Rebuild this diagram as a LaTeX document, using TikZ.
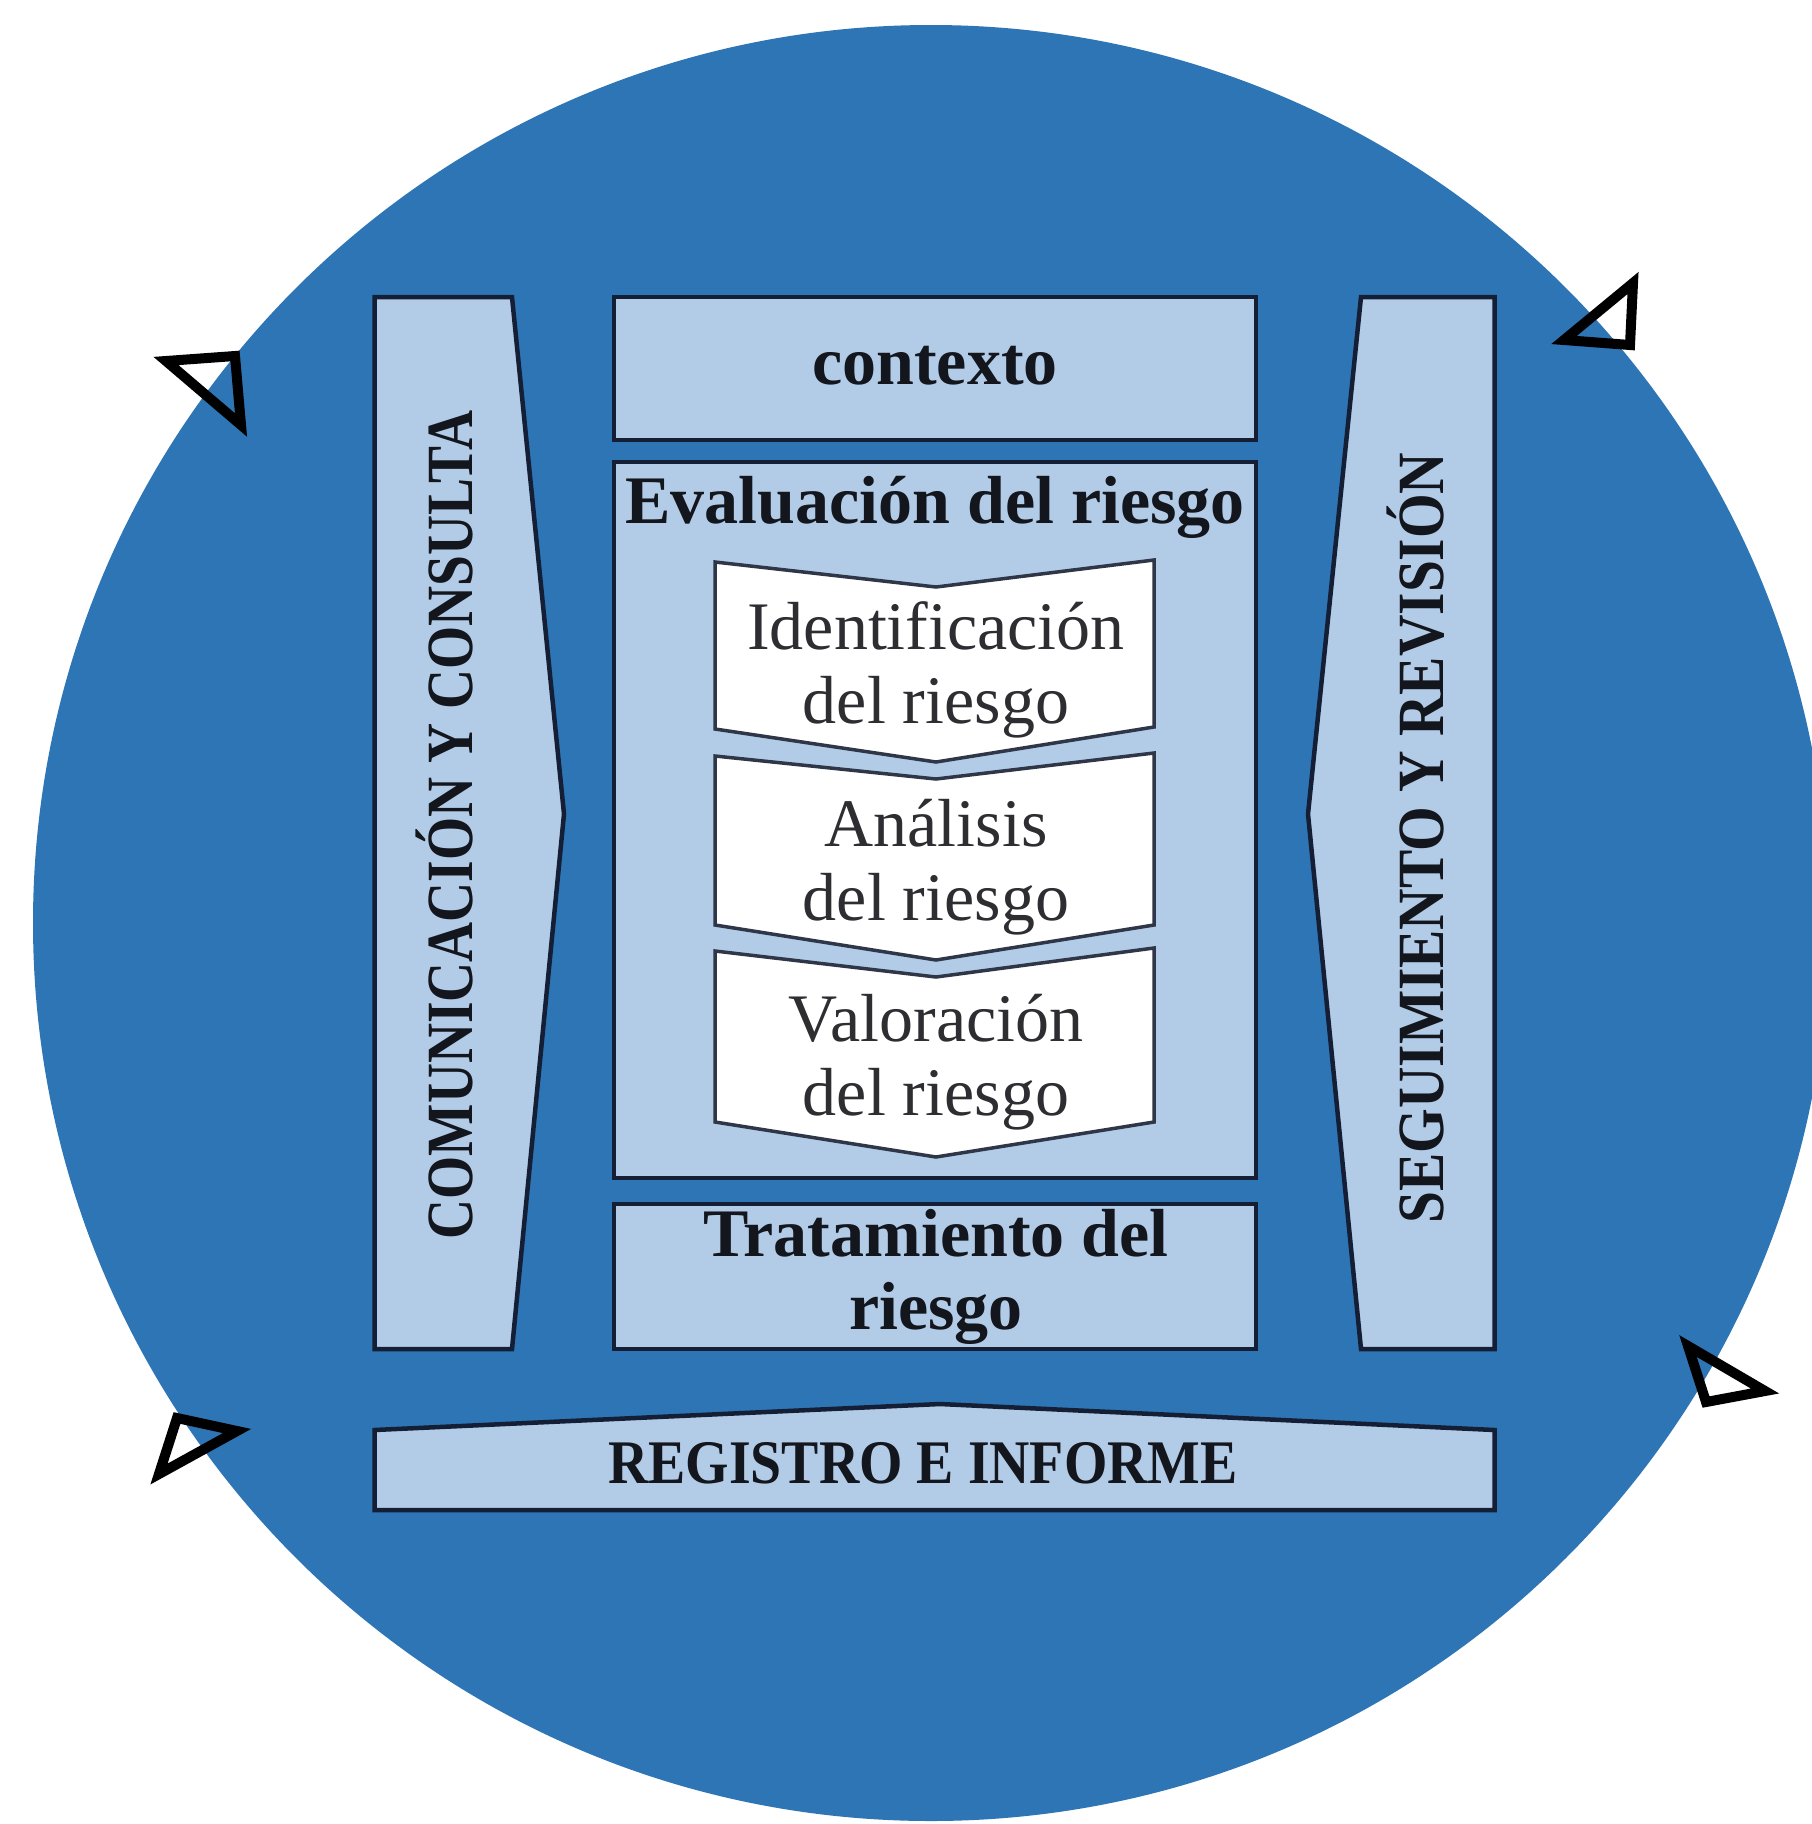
\documentclass[tikz,border=0pt]{standalone}
\usepackage{fontspec}
\setmainfont{Liberation Serif}
\usepackage{graphicx}
\definecolor{circ}{RGB}{46,117,182}
\definecolor{lite}{RGB}{178,204,232}
\definecolor{edge}{RGB}{20,30,52}
\definecolor{ink}{RGB}{20,22,30}
\definecolor{ink2}{RGB}{45,45,50}
\begin{document}
\begin{tikzpicture}[x=1pt,y=-1pt,
  panel/.style={fill=lite,draw=edge,line width=4.5pt,line join=miter},
  chevbox/.style={fill=white,draw=edge!75!gray,line width=3.5pt,line join=miter},
  tri/.style={draw=black,line width=10pt,line join=miter},
  boldtxt/.style={font=\fontsize{68}{73}\selectfont\bfseries,text=ink,inner sep=0pt,align=center},
  regtxt/.style={font=\fontsize{68}{74}\selectfont,text=ink2,inner sep=0pt,align=center},
  captxt/.style={font=\fontsize{66}{70}\selectfont\bfseries,text=ink,inner sep=0pt}]
\useasboundingbox (0,0) rectangle (1812,1824);
\fill[white] (0,0) rectangle (1812,1824);
\begin{scope}
\clip (0,0) rectangle (1812,1824);
\fill[circ] (931,923) circle (898);
\end{scope}

% left column
\draw[panel] (374.5,297) -- (512,297) -- (564,814) -- (512,1349) -- (374.5,1349) -- cycle;
% right column
\draw[panel] (1361,297) -- (1494.5,297) -- (1494.5,1349) -- (1361,1349) -- (1308,814) -- cycle;
% central boxes
\draw[panel] (614,297) rectangle (1256,440);
\draw[panel] (614,462) rectangle (1256,1178);
\draw[panel] (614,1204) rectangle (1256,1349);
% bottom bar
\draw[panel] (374.5,1430) -- (940,1404) -- (1494.5,1430) -- (1494.5,1510) -- (374.5,1510) -- cycle;

% chevrons
\draw[chevbox] (715,562) -- (936,587) -- (1154,560) -- (1154,727) -- (936,762) -- (715,729) -- cycle;
\draw[chevbox] (715,756) -- (936,779) -- (1154,753) -- (1154,925) -- (936,960) -- (715,925) -- cycle;
\draw[chevbox] (715,951) -- (936,977) -- (1154,948) -- (1154,1122) -- (936,1157) -- (715,1122) -- cycle;

% texts
\node[boldtxt,anchor=base] (ctx) at (935,384) {contexto};
\node[boldtxt,anchor=base] (eva) at (935,523) {Evaluación del riesgo};
\node[regtxt] (ide) at (936,670) {Identificación\\del riesgo};
\node[regtxt] (ana) at (936,867) {Análisis\\del riesgo};
\node[regtxt] (val) at (936,1062) {Valoración\\del riesgo};
\node[boldtxt] (tra) at (936,1277) {Tratamiento del\\riesgo};
\node[captxt,rotate=90,anchor=base] (com) at (472,825) {\scalebox{0.84}[1]{COMUNICACIÓN Y CONSULTA}};
\node[captxt,rotate=90,anchor=base] (seg) at (1443,838) {\scalebox{0.87}[1]{SEGUIMIENTO Y REVISIÓN}};
\node[captxt,anchor=base] (reg) at (923,1483) {\scalebox{0.9}[1]{\fontsize{62}{66}\selectfont REGISTRO E INFORME}};

% open triangles
\draw[tri] (166,361) -- (235,356) -- (241,425) -- cycle;
\draw[tri] (1633,283) -- (1564,340) -- (1630,345) -- cycle;
\draw[tri] (1688,1346) -- (1765,1391) -- (1706,1402) -- cycle;
\draw[tri] (177,1418) -- (237,1431) -- (159,1474) -- cycle;
\end{tikzpicture}
\end{document}
